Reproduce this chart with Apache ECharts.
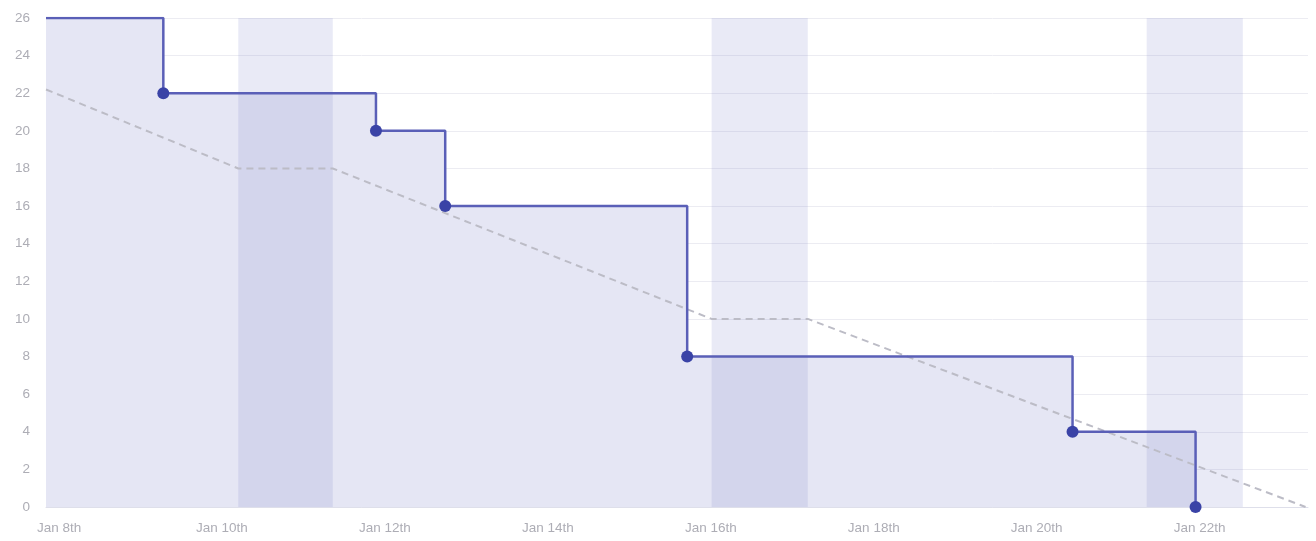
<!DOCTYPE html>
<html lang="en">
<head>
    <meta charset="UTF-8">
    <title>Burndown</title>
    <script src="https://cdn.jsdelivr.net/npm/echarts@6/dist/echarts.min.js"></script>
    <style>
        html, body {margin: 0; padding: 0; background: #fff;}
        #burndown {width: 1316px; height: 541px;}
    </style>
</head>
<body>
<div id="burndown"></div>
<script>
    // x values are days of January (fractional), y values are remaining points
    var doneDays = [7.84, 9.28, 11.89, 12.74, 15.71, 20.44, 21.95];
    var doneLeft = [26, 22, 20, 16, 8, 4, 0];
    var idealDays = [7.84, 10.2, 11.36, 16.01, 17.19, 23.3];
    var idealLeft = [22.2, 18, 18, 10, 10, 0];
    var offStart = [10.2, 16.01, 21.35];
    var offEnd = [11.36, 17.19, 22.53];
    var tickDays = [8, 10, 12, 14, 16, 18, 20, 22];

    var doneData = [];
    for (var i = 0; i < doneDays.length; i++) {
        doneData.push({value: [doneDays[i], doneLeft[i]], symbol: i === 0 ? 'none' : 'circle'});
    }
    var idealData = [];
    for (var j = 0; j < idealDays.length; j++) {
        idealData.push([idealDays[j], idealLeft[j]]);
    }
    var bands = [];
    for (var k = 0; k < offStart.length; k++) {
        bands.push([{xAxis: offStart[k]}, {xAxis: offEnd[k]}]);
    }

    var chart = echarts.init(document.getElementById('burndown'));
    var axisGray = '#adadb5';
    chart.setOption({
        animation: false,
        textStyle: {fontFamily: 'Liberation Sans, Arial, sans-serif'},
        grid: {left: 46, right: 8, top: 18, bottom: 34},
        xAxis: {
            type: 'value',
            min: 7.84,
            max: 23.33,
            axisLine: {show: true, lineStyle: {color: '#dedfea', width: 1}},
            axisTick: {show: false},
            splitLine: {show: false},
            axisLabel: {
                customValues: tickDays,
                color: axisGray,
                fontSize: 13.5,
                margin: 14,
                formatter: function (v) { return 'Jan ' + v + 'th'; }
            }
        },
        yAxis: {
            type: 'value',
            min: 0,
            max: 26,
            interval: 2,
            axisLine: {show: false},
            axisTick: {show: false},
            splitLine: {lineStyle: {color: '#ececf2', width: 1}},
            axisLabel: {color: axisGray, fontSize: 13.5, margin: 16}
        },
        series: [
            {
                // area under the remaining work
                type: 'line',
                step: 'end',
                z: 1,
                symbol: 'none',
                lineStyle: {width: 0},
                areaStyle: {color: '#e5e6f4', opacity: 1},
                data: doneData.map(function (d) { return d.value; })
            },
            {
                // non working days
                type: 'line',
                z: 2,
                data: [],
                markArea: {
                    silent: true,
                    z: 3,
                    itemStyle: {color: 'rgba(120,125,200,0.16)'},
                    data: bands
                }
            },
            {
                type: 'line',
                z: 4,
                data: idealData,
                symbol: 'none',
                lineStyle: {color: '#bcbcc6', width: 2, type: [7, 5]}
            },
            {
                type: 'line',
                step: 'end',
                z: 5,
                symbolSize: 12,
                itemStyle: {color: '#3a43a6'},
                lineStyle: {color: '#5a5fb7', width: 2.5},
                data: doneData
            }
        ]
    });
</script>
</body>
</html>
